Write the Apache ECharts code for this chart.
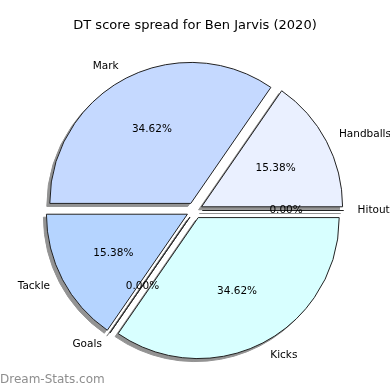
<!DOCTYPE html>
<html><head><meta charset="utf-8">
<script src="https://cdn.jsdelivr.net/npm/echarts@6/dist/echarts.min.js"></script>
<style>html,body{margin:0;padding:0;background:#fff}#c{width:390px;height:390px}</style>
</head><body><div id="c"></div>
<script>
const categories = ['Handballs', 'Mark', 'Tackle', 'Goals', 'Kicks', 'Hitouts'];
const values = [4, 9, 4, 0, 9, 0];
const colors = ['#eaf0ff', '#c5d9ff', '#b5d4ff', '#c0d8ff', '#d8ffff', '#e0e8ff'];
const titleText = 'DT score spread for Ben Jarvis (2020)';
const watermark = 'Dream-Stats.com';

const R = 141;
const CX = 194.5, CY = 210.5;
const SHADOW = 3;
const shadowColor = '#939393';
const chart = echarts.init(document.getElementById('c'), null, {renderer: 'canvas'});
const shadowSlices = categories.map((n, i) => ({name: n, value: values[i], selected: true}));
const slices = categories.map((n, i) => ({name: n, value: values[i], selected: true, itemStyle: {color: colors[i]}}));
const pctSlices = categories.map((n, i) => ({name: n, value: values[i], selected: true}));
const font = 'DejaVu Sans';
const common = {
  type: 'pie', startAngle: 0, clockwise: false,
  selectedMode: 'multiple', selectedOffset: 8, avoidLabelOverlap: false, silent: true,
  minAngle: 0, stillShowZeroSum: true, emphasis: {disabled: true}
};
const option = {
  animation: false,
  title: [
    {text: titleText, left: 'center', top: 19, padding: 0,
     textStyle: {fontFamily: font, fontSize: 13, fontWeight: 'normal', color: '#000'}},
    {text: watermark, left: 0, top: 374, padding: 0,
     textStyle: {fontFamily: font, fontSize: 12, fontWeight: 'normal', color: '#8e8e8e'}}
  ],
  series: [
    Object.assign({}, common, {
      center: [CX - SHADOW, CY + SHADOW], radius: [0, R],
      itemStyle: {color: shadowColor, borderColor: shadowColor, borderWidth: 1},
      select: {itemStyle: {color: shadowColor, borderColor: shadowColor, borderWidth: 1}},
      label: {show: false}, labelLine: {show: false},
      data: shadowSlices
    }),
    Object.assign({}, common, {
      center: [CX, CY], radius: [0, R],
      itemStyle: {borderColor: '#222', borderWidth: 1},
      label: {show: true, position: 'outside', formatter: '{b}', fontFamily: font, fontSize: 10.5, color: '#000', distanceToLabelLine: 0},
      labelLine: {show: false, length: R * 0.1, length2: 0},
      select: {itemStyle: {borderColor: '#222', borderWidth: 1}},
      data: slices
    }),
    Object.assign({}, common, {
      center: [CX, CY], radius: [0, R * 1.2], selectedOffset: 4,
      itemStyle: {color: 'rgba(0,0,0,0)', borderWidth: 0},
      label: {show: true, position: 'inside', formatter: p => p.percent.toFixed(2) + '%', fontFamily: font, fontSize: 10.5, color: '#000'},
      labelLine: {show: false},
      select: {itemStyle: {color: 'rgba(0,0,0,0)', borderWidth: 0}},
      data: pctSlices
    })
  ]
};
chart.setOption(option);
</script>
</body></html>
